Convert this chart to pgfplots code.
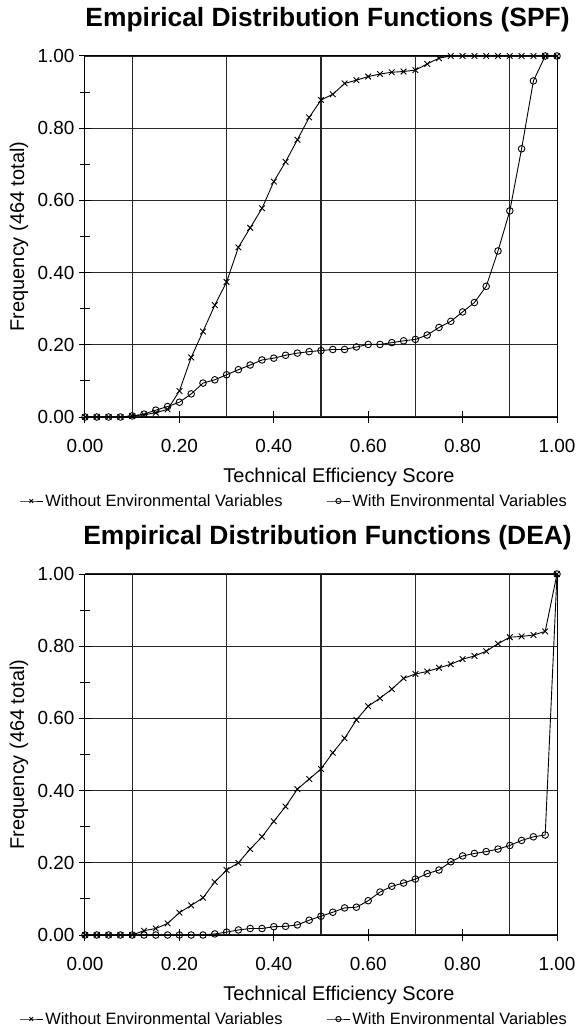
\documentclass[border=0pt]{standalone}
\usepackage{fontspec}
\setmainfont{Liberation Sans}
\usepackage{pgfplots}
\pgfplotsset{compat=1.18}

\pgfplotsset{
  edf/.style={
    scale only axis,
    width=472bp, height=361bp,
    xmin=0, xmax=1, ymin=0, ymax=1,
    clip=false,
    axis line style={black, line width=1bp},
    xtick={0,0.2,0.4,0.6,0.8,1},
    minor xtick={0.1,0.3,0.5,0.7,0.9},
    ytick={0,0.2,0.4,0.6,0.8,1},
    minor ytick={0.1,0.3,0.5,0.7,0.9},
    xminorgrids=true, ymajorgrids=true,
    grid style={black!85, line width=1.1bp},
    minor grid style={black!85, line width=1.1bp},
    tick pos=left,
    tick align=center,
    major tick length=12bp, minor tick length=10bp,
    tick style={black, line width=1bp},
    every minor x tick/.append style={draw=none},
    /pgf/number format/assume math mode=true,
    /pgf/number format/fixed,
    /pgf/number format/fixed zerofill,
    /pgf/number format/precision=2,
    tick label style={font=\fontsize{19}{19}\selectfont},
    xticklabel style={yshift=-13bp},
    yticklabel style={xshift=-1bp},
    title style={font=\bfseries\fontsize{26.5}{26.5}\selectfont, anchor=base,
      at={(axis description cs:0.5,1)}, yshift=23.7bp, xshift=6.5bp},
    xlabel={Technical Efficiency Score},
    ylabel={Frequency (464 total)},
    label style={font=\fontsize{20}{20}\selectfont},
    xlabel style={anchor=base, at={(axis description cs:0.5,0)}, yshift=-65bp, xshift=18bp},
    ylabel style={anchor=center, at={(axis description cs:-0.1398,0.5)}},
    legend columns=2,
    legend style={draw=none, fill=none, font=\fontsize{16.5}{16.5}\selectfont,
      at={(axis description cs:0.443,0)}, yshift=-84bp, anchor=center,
      /tikz/every even column/.append style={column sep=42bp}},
    legend image code/.code={
      \draw[mark repeat=2, mark phase=2, #1, /tikz/mark size=2.6bp]
        plot coordinates {(0bp,0bp) (11.5bp,0bp) (23bp,0bp)};
    },
  },
  nox/.style={black, line width=0.9bp, mark=x, mark size=4bp, mark options={solid}},
  witho/.style={black, line width=0.9bp, mark=o, mark size=3.3bp, mark options={solid}},
}

\begin{document}
\begin{tikzpicture}
\path[use as bounding box] (-85bp,-610bp) rectangle (493bp,417bp);

% --- SPF ---
\begin{axis}[edf, title={Empirical Distribution Functions (SPF)}]
\addplot[nox] coordinates {
  (0,0) (0.025,0) (0.05,0) (0.075,0) (0.1,0.003) (0.125,0.006) (0.15,0.012)
  (0.175,0.021) (0.2,0.072) (0.225,0.165) (0.25,0.237) (0.275,0.310) (0.3,0.374)
  (0.325,0.470) (0.35,0.524) (0.375,0.578) (0.4,0.652) (0.425,0.707) (0.45,0.768)
  (0.475,0.830) (0.5,0.878) (0.525,0.894) (0.55,0.924) (0.575,0.933) (0.6,0.943)
  (0.625,0.950) (0.65,0.955) (0.675,0.957) (0.7,0.961) (0.725,0.978) (0.75,0.994)
  (0.775,1) (0.8,1) (0.825,1) (0.85,1) (0.875,1) (0.9,1) (0.925,1) (0.95,1)
  (0.975,1) (1,1)
};
\addlegendentry{Without Environmental Variables}
\addplot[witho] coordinates {
  (0,0) (0.025,0) (0.05,0) (0.075,0) (0.1,0.003) (0.125,0.008) (0.15,0.019)
  (0.175,0.029) (0.2,0.041) (0.225,0.064) (0.25,0.094) (0.275,0.103) (0.3,0.117)
  (0.325,0.131) (0.35,0.144) (0.375,0.158) (0.4,0.163) (0.425,0.171) (0.45,0.177)
  (0.475,0.181) (0.5,0.184) (0.525,0.187) (0.55,0.187) (0.575,0.194) (0.6,0.201)
  (0.625,0.201) (0.65,0.206) (0.675,0.211) (0.7,0.215) (0.725,0.227) (0.75,0.248)
  (0.775,0.265) (0.8,0.291) (0.825,0.317) (0.85,0.362) (0.875,0.460) (0.9,0.571)
  (0.925,0.743) (0.95,0.931) (0.975,1) (1,1)
};
\addlegendentry{With Environmental Variables}
\end{axis}

% --- DEA ---
\begin{axis}[edf, at={(0,-518bp)}, title={Empirical Distribution Functions (DEA)}]
\addplot[nox] coordinates {
  (0,0) (0.025,0) (0.05,0) (0.075,0) (0.1,0) (0.125,0.012) (0.15,0.018)
  (0.175,0.032) (0.2,0.062) (0.225,0.082) (0.25,0.103) (0.275,0.147) (0.3,0.180)
  (0.325,0.200) (0.35,0.238) (0.375,0.272) (0.4,0.315) (0.425,0.356) (0.45,0.404)
  (0.475,0.432) (0.5,0.460) (0.525,0.505) (0.55,0.545) (0.575,0.596) (0.6,0.634)
  (0.625,0.656) (0.65,0.681) (0.675,0.711) (0.7,0.723) (0.725,0.730) (0.75,0.740)
  (0.775,0.750) (0.8,0.764) (0.825,0.773) (0.85,0.786) (0.875,0.807) (0.9,0.825)
  (0.925,0.827) (0.95,0.831) (0.975,0.841) (1,1)
};
\addlegendentry{Without Environmental Variables}
\addplot[witho] coordinates {
  (0,0) (0.025,0) (0.05,0) (0.075,0) (0.1,0) (0.125,0) (0.15,0)
  (0.175,0) (0.2,0) (0.225,0) (0.25,0) (0.275,0.003) (0.3,0.008)
  (0.325,0.014) (0.35,0.018) (0.375,0.018) (0.4,0.023) (0.425,0.024) (0.45,0.028)
  (0.475,0.041) (0.5,0.052) (0.525,0.063) (0.55,0.075) (0.575,0.077) (0.6,0.095)
  (0.625,0.119) (0.65,0.135) (0.675,0.144) (0.7,0.155) (0.725,0.170) (0.75,0.180)
  (0.775,0.203) (0.8,0.219) (0.825,0.226) (0.85,0.231) (0.875,0.238) (0.9,0.248)
  (0.925,0.262) (0.95,0.272) (0.975,0.277) (1,1)
};
\addlegendentry{With Environmental Variables}
\end{axis}
\end{tikzpicture}
\end{document}
